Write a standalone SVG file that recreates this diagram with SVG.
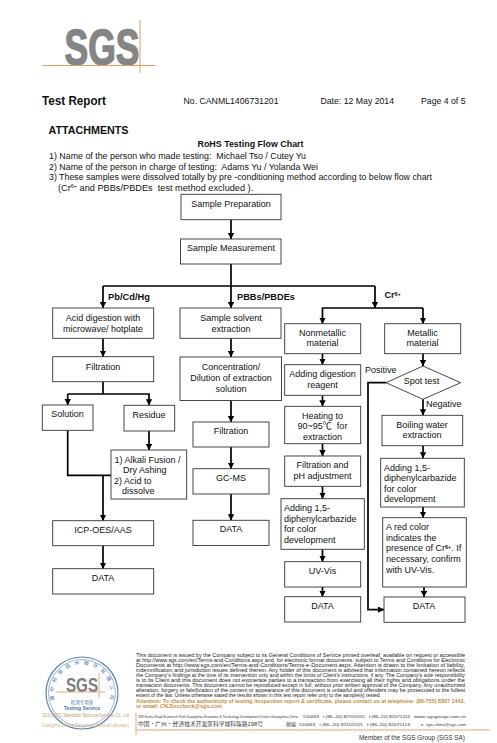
<svg xmlns="http://www.w3.org/2000/svg" width="497" height="743" viewBox="0 0 497 743">
<style>
text{font-family:"Liberation Sans",Arial,"Noto Sans CJK SC",sans-serif;fill:#111}
.t{font-size:9px;text-anchor:middle}
.l{font-size:9px}
.b{font-weight:bold}
.h{font-size:9.2px}
.box{fill:#fff;stroke:#333;stroke-width:.9}
.c{fill:none;stroke:#000;stroke-width:1.7}
.a{marker-end:url(#ah)}
.f{font-size:4.7px;fill:#222}
.o{font-size:4.7px;fill:#c8893a;font-weight:bold}
.ad{font-size:4.3px;fill:#333}
.or{stroke:#e59a63;fill:none}
.sup{font-size:5.5px}
.r{font-size:5px;text-anchor:middle;fill:#4d78ad}
</style>
<defs>
<marker id="ah" viewBox="0 0 10 10" refX="9.5" refY="5" markerWidth="6.400" markerHeight="6.400" markerUnits="userSpaceOnUse" orient="auto"><path d="M0 0L10 5L0 10Z" fill="#000"/></marker>
</defs>
<rect width="497" height="743" fill="#fff"/>

<g id="logo">
<text x="64.500" y="64.500" font-size="50" font-weight="bold" style="fill:#858585;stroke:#858585;stroke-width:1.500" textLength="75" lengthAdjust="spacingAndGlyphs">SGS</text>
<path class="or" d="M42 65.500H155M140 20V73" stroke-width="1"/>
</g>

<g id="header">
<text x="42" y="104.500" font-size="13" class="b" textLength="64" lengthAdjust="spacingAndGlyphs">Test Report</text>
<text x="183.500" y="103.500" class="h" textLength="95" lengthAdjust="spacingAndGlyphs">No. CANML1406731201</text>
<text x="320.500" y="103.500" class="h" textLength="73.500" lengthAdjust="spacingAndGlyphs">Date: 12 May 2014</text>
<text x="421" y="103.500" class="h" textLength="44.500" lengthAdjust="spacingAndGlyphs">Page 4 of 5</text>
<text x="48.500" y="134" font-size="11.500" class="b" textLength="80" lengthAdjust="spacingAndGlyphs">ATTACHMENTS</text>
<text x="197.500" y="146.500" font-size="9" class="b" textLength="106" lengthAdjust="spacingAndGlyphs">RoHS Testing Flow Chart</text>
<text x="49" y="158.500" class="h" textLength="257" lengthAdjust="spacingAndGlyphs">1) Name of the person who made testing:&#160; Michael Tso / Cutey Yu</text>
<text x="49" y="169.500" class="h" textLength="269" lengthAdjust="spacingAndGlyphs">2) Name of the person in charge of testing:&#160; Adams Yu / Yolanda Wei</text>
<text x="49" y="179.500" class="h" textLength="383" lengthAdjust="spacingAndGlyphs">3) These samples were dissolved totally by pre -conditioning method according to below flow chart</text>
<text x="58" y="190.500" class="h">(Cr<tspan class="sup" dy="-3">6+</tspan><tspan dy="3"> and PBBs/PBDEs&#160; test method excluded ).</tspan></text>
</g>

<g id="connectors">
<path class="c a" d="M231 219.700V239"/>
<path class="c a" d="M231 264V308"/>
<path class="c" d="M103 286H375"/>
<path class="c a" d="M103 286V308"/>
<path class="c a" d="M375 286V308"/>
<path class="c a" d="M423 308H322.500V323.700"/>
<path class="c a" d="M423 308V323.700"/>
<path class="c a" d="M103 338.300V356.700"/>
<path class="c" d="M103 381.700V394"/>
<path class="c a" d="M67.700 394V405"/>
<path class="c a" d="M67.700 394H149V405.300"/>
<path class="c" d="M67.700 430.300V475.300H111"/>
<path class="c a" d="M103 475.300V520.700"/>
<path class="c a" d="M149 431V450"/>
<path class="c a" d="M103 545.700V568.700"/>
<path class="c a" d="M231 338.300V357"/>
<path class="c a" d="M231 400.500V422"/>
<path class="c a" d="M231 447V468.700"/>
<path class="c a" d="M231 494V520.300"/>
<path class="c a" d="M322.500 353.700V364.700"/>
<path class="c a" d="M322.500 395.300V406.300"/>
<path class="c a" d="M322.500 443.700V456"/>
<path class="c a" d="M322.500 486.300V498.700"/>
<path class="c a" d="M322.500 549.300V561.700"/>
<path class="c a" d="M322.500 587V596.700"/>
<path class="c a" d="M423 353.700V366"/>
<path class="c a" d="M423 399.300V415.300"/>
<path class="c a" d="M423 445.700V458.300"/>
<path class="c a" d="M423 507V517.700"/>
<path class="c a" d="M424 587V597"/>
<path class="c a" d="M386 382.700H368V609.700H384"/>
</g>

<g id="branch-labels">
<text x="108" y="300" font-size="9" class="b" textLength="42" lengthAdjust="spacingAndGlyphs">Pb/Cd/Hg</text>
<text x="237" y="300" font-size="9" class="b" textLength="58" lengthAdjust="spacingAndGlyphs">PBBs/PBDEs</text>
<text x="384.500" y="297.500" font-size="9" class="b">Cr<tspan class="sup" dy="-2">6+</tspan></text>
<text x="365" y="373" class="l">Positive</text>
<text x="426" y="407" class="l">Negative</text>
</g>

<g id="prep"><rect class="box" x="181" y="194.300" width="100" height="25.400"/><text class="t" x="231" y="207">Sample Preparation</text></g>
<g id="measure"><rect class="box" x="180.500" y="239" width="100.500" height="25"/><text class="t" x="231" y="251">Sample Measurement</text></g>

<g id="acid"><rect class="box" x="52.700" y="308" width="101" height="30.300"/><text class="t" x="103" y="320.500">Acid digestion with</text><text class="t" x="103" y="331.500">microwave/ hotplate</text></g>
<g id="filtration1"><rect class="box" x="52.700" y="356.700" width="101" height="25"/><text class="t" x="103" y="369.500">Filtration</text></g>
<g id="solution"><rect class="box" x="42.300" y="405" width="50.700" height="25.300"/><text class="t" x="67.500" y="417">Solution</text></g>
<g id="residue"><rect class="box" x="124" y="405.300" width="50.700" height="25.700"/><text class="t" x="149" y="418">Residue</text></g>
<g id="alkali"><rect class="box" x="111" y="450" width="75.700" height="49"/>
<text class="l" x="114.500" y="463">1) Alkali Fusion /</text><text class="l" x="123" y="473">Dry Ashing</text><text class="l" x="114" y="484">2) Acid to</text><text class="l" x="122" y="494">dissolve</text></g>
<g id="icp"><rect class="box" x="52.700" y="520.700" width="101" height="25"/><text class="t" x="103" y="533">ICP-OES/AAS</text></g>
<g id="data1"><rect class="box" x="52.700" y="568.700" width="101" height="25.300"/><text class="t" x="103" y="581">DATA</text></g>

<g id="solvent"><rect class="box" x="180" y="308" width="101" height="30.300"/><text class="t" x="231" y="320.500">Sample solvent</text><text class="t" x="231" y="331.500">extraction</text></g>
<g id="concentration"><rect class="box" x="180" y="357" width="101.500" height="43.500"/><text class="t" x="231" y="369.500">Concentration/</text><text class="t" x="231" y="380.500">Dilution of extraction</text><text class="t" x="231" y="391.500">solution</text></g>
<g id="filtration2"><rect class="box" x="193" y="422" width="76" height="25"/><text class="t" x="231" y="434">Filtration</text></g>
<g id="gcms"><rect class="box" x="193" y="468.700" width="76" height="25.300"/><text class="t" x="231" y="481">GC-MS</text></g>
<g id="data2"><rect class="box" x="193" y="520.300" width="76" height="25.200"/><text class="t" x="231" y="532">DATA</text></g>

<g id="nonmetallic"><rect class="box" x="284.700" y="323.700" width="76" height="30"/><text class="t" x="322.500" y="336">Nonmetallic</text><text class="t" x="322.500" y="346">material</text></g>
<g id="digestion"><rect class="box" x="284.700" y="364.700" width="76" height="30.600"/><text class="t" x="322.500" y="377">Adding digestion</text><text class="t" x="322.500" y="388">reagent</text></g>
<g id="heating"><rect class="box" x="284.700" y="406.300" width="76" height="37.400"/><text class="t" x="322.500" y="419">Heating to</text><text class="t" x="322.500" y="429">90~95℃&#160; for</text><text class="t" x="322.500" y="440">extraction</text></g>
<g id="ph"><rect class="box" x="284.700" y="456" width="76" height="30.300"/><text class="t" x="322.500" y="468">Filtration and</text><text class="t" x="322.500" y="479">pH adjustment</text></g>
<g id="adding1"><rect class="box" x="281" y="498.700" width="83.300" height="50.600"/><text class="l" x="284" y="511">Adding 1,5-</text><text class="l" x="284" y="522">diphenylcarbazide</text><text class="l" x="284" y="532">for color</text><text class="l" x="284" y="543">development</text></g>
<g id="uvvis"><rect class="box" x="284.700" y="561.700" width="76" height="25.300"/><text class="t" x="322.500" y="574">UV-Vis</text></g>
<g id="data3"><rect class="box" x="284.700" y="596.700" width="76" height="25.300"/><text class="t" x="322.500" y="609">DATA</text></g>

<g id="metallic"><rect class="box" x="384.700" y="323.700" width="76" height="30"/><text class="t" x="422.500" y="336">Metallic</text><text class="t" x="422.500" y="346">material</text></g>
<g id="spot"><path class="box" d="M423 366L460.700 382.700L423 399.300L386 382.700Z"/><text class="t" x="421.500" y="383.500">Spot test</text></g>
<g id="boiling"><rect class="box" x="382" y="415.300" width="80.700" height="30.400"/><text class="t" x="422" y="428">Boiling water</text><text class="t" x="422" y="438">extraction</text></g>
<g id="adding2"><rect class="box" x="380.700" y="458.300" width="83.600" height="48.700"/><text class="l" x="384" y="471">Adding 1,5-</text><text class="l" x="384" y="481">diphenylcarbazide</text><text class="l" x="384" y="492">for color</text><text class="l" x="384" y="502">development</text></g>
<g id="redcolor"><rect class="box" x="382.700" y="517.700" width="83.600" height="69.300"/><text class="l" x="386" y="530">A red color</text><text class="l" x="386" y="541">indicates the</text><text class="l" x="386" y="551">presence of Cr<tspan class="sup b" dy="-2">6+</tspan><tspan dy="2">. If</tspan></text><text class="l" x="386" y="562">necessary, confirm</text><text class="l" x="386" y="573">with UV-Vis.</text></g>
<g id="data4"><rect class="box" x="384" y="597" width="81" height="25.300"/><text class="t" x="424" y="609">DATA</text></g>

<g id="stamp">
<circle cx="82" cy="693" r="36" fill="none" stroke="#5c84b8" stroke-width="1.200"/>
<circle cx="82" cy="693" r="33.500" fill="none" stroke="#5c84b8" stroke-width=".6"/>
<text class="r" x="82" y="664.500" transform="rotate(-100 82 693)">通</text>
<text class="r" x="82" y="664.500" transform="rotate(-82 82 693)">标</text>
<text class="r" x="82" y="664.500" transform="rotate(-64 82 693)">标</text>
<text class="r" x="82" y="664.500" transform="rotate(-46 82 693)">准</text>
<text class="r" x="82" y="664.500" transform="rotate(-28 82 693)">技</text>
<text class="r" x="82" y="664.500" transform="rotate(-10 82 693)">术</text>
<text class="r" x="82" y="664.500" transform="rotate(8 82 693)">服</text>
<text class="r" x="82" y="664.500" transform="rotate(26 82 693)">务</text>
<text class="r" x="82" y="664.500" transform="rotate(44 82 693)">有</text>
<text class="r" x="82" y="664.500" transform="rotate(62 82 693)">限</text>
<text class="r" x="82" y="664.500" transform="rotate(80 82 693)">公</text>
<text class="r" x="82" y="664.500" transform="rotate(98 82 693)">司</text>
<text x="66" y="692" font-size="21" font-weight="bold" style="fill:#7c7c7c" textLength="32" lengthAdjust="spacingAndGlyphs">SGS</text>
<path class="or" d="M56 692H105M99 673V698" stroke-width=".8"/>
<text x="82" y="703.500" font-size="4.500" text-anchor="middle" style="fill:#4d78ad">检测专用章</text>
<text x="82" y="710" font-size="5" font-weight="bold" text-anchor="middle" style="fill:#4d78ad">Testing Service</text>
<text transform="translate(42 717) scale(.75 1)" font-size="5.200" style="fill:#c99a5e" textLength="116" lengthAdjust="spacingAndGlyphs">SGS-CSTC Standards Technical Services Co., Ltd</text>
<text transform="translate(42 726.500) scale(.75 1)" font-size="5.200" style="fill:#d6ae7b" textLength="116" lengthAdjust="spacingAndGlyphs">Guangzhou Branch Dangerous/Chemical Laboratory</text>
</g>

<g id="footer">
<text class="f" x="136" y="657" textLength="329" lengthAdjust="spacingAndGlyphs">This document is issued by the Company subject to its General Conditions of Service printed overleaf, available on request or accessible</text>
<text class="f" x="136" y="662" textLength="329" lengthAdjust="spacingAndGlyphs">at http://www.sgs.com/en/Terms-and-Conditions.aspx and, for electronic format documents, subject to Terms and Conditions for Electronic</text>
<text class="f" x="136" y="667" textLength="329" lengthAdjust="spacingAndGlyphs">Documents at http://www.sgs.com/en/Terms-and-Conditions/Terms-e-Document.aspx. Attention is drawn to the limitation of liability,</text>
<text class="f" x="136" y="672" textLength="329" lengthAdjust="spacingAndGlyphs">indemnification and jurisdiction issues defined therein. Any holder of this document is advised that information contained hereon reflects</text>
<text class="f" x="136" y="677" textLength="329" lengthAdjust="spacingAndGlyphs">the Company's findings at the time of its intervention only and within the limits of Client's instructions, if any. The Company's sole responsibility</text>
<text class="f" x="136" y="682" textLength="329" lengthAdjust="spacingAndGlyphs">is to its Client and this document does not exonerate parties to a transaction from exercising all their rights and obligations under the</text>
<text class="f" x="136" y="687" textLength="329" lengthAdjust="spacingAndGlyphs">transaction documents. This document cannot be reproduced except in full, without prior written approval of the Company. Any unauthorized</text>
<text class="f" x="136" y="692" textLength="329" lengthAdjust="spacingAndGlyphs">alteration, forgery or falsification of the content or appearance of this document is unlawful and offenders may be prosecuted to the fullest</text>
<text class="f" x="136" y="697" textLength="245" lengthAdjust="spacingAndGlyphs">extent of the law. Unless otherwise stated the results shown in this test report refer only to the sample(s) tested.</text>
<text class="o" x="136" y="702.500" textLength="329" lengthAdjust="spacingAndGlyphs">Attention: To check the authenticity of testing /inspection report &amp; certificate, please contact us at telephone: (86-755) 8307 1443,</text>
<text class="o" x="136" y="707.500" textLength="86" lengthAdjust="spacingAndGlyphs">or email: CN.Doccheck@sgs.com</text>
<path class="or" d="M136 713V735M136 730H490" stroke-width=".9"/>
<text class="ad" transform="translate(138 718) scale(.75 1)" textLength="213" lengthAdjust="spacingAndGlyphs">198 Kezhu Road,Scientech Park Guangzhou Economic &amp; Technology Development District,Guangzhou,China</text>
<text class="ad" x="303" y="718" textLength="107" lengthAdjust="spacingAndGlyphs">510663 &#160; t (86–20) 82155555 &#160; f (86–20) 82075113</text>
<text class="ad" x="414" y="718" textLength="52" lengthAdjust="spacingAndGlyphs">www.sgsgroup.com.cn</text>
<text x="138" y="726" font-size="5.200" style="fill:#333" textLength="125" lengthAdjust="spacingAndGlyphs">中国・广州・经济技术开发区科学城科珠路198号</text>
<text class="ad" x="286" y="726" textLength="124" lengthAdjust="spacingAndGlyphs">邮编: 510663 &#160; t (86–20) 82155555 &#160; f (86–20) 82075113</text>
<text class="ad" x="421" y="726" textLength="45" lengthAdjust="spacingAndGlyphs">e&#160; sgs.china@sgs.com</text>
<text x="359" y="740" font-size="6.600" style="fill:#333" textLength="106" lengthAdjust="spacingAndGlyphs">Member of the SGS Group (SGS SA)</text>
</g>
</svg>
